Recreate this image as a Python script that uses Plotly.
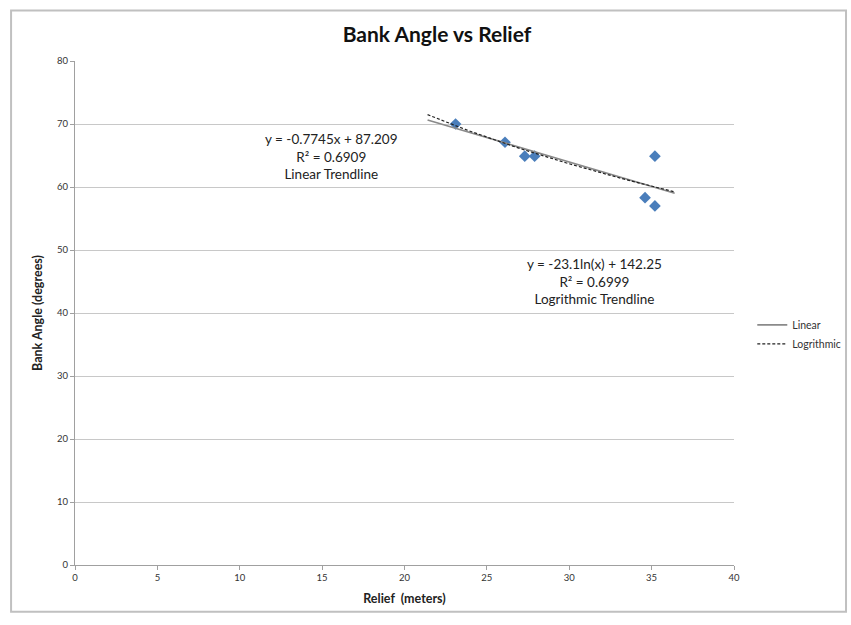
import numpy as np
import plotly.graph_objects as go

# Measured relief (m) and bank angle (degrees)
relief = [23.1, 26.1, 27.3, 27.9, 34.6, 35.2, 35.2]
bank_angle = [70.0, 67.1, 64.9, 64.9, 58.3, 64.9, 57.0]

# Trendline coefficients
lin_slope, lin_intercept, lin_r2 = -0.7745, 87.209, 0.6909
log_coef, log_intercept, log_r2 = -23.1, 142.25, 0.6999
trend_x_range = [21.4, 36.4]

x_ticks = [0, 5, 10, 15, 20, 25, 30, 35, 40]
y_ticks = [0, 10, 20, 30, 40, 50, 60, 70, 80]

tx = np.linspace(trend_x_range[0], trend_x_range[1], 60)
lin_y = lin_slope * tx + lin_intercept
log_y = log_coef * np.log(tx) + log_intercept

FONT = "Lato, 'Open Sans', sans-serif"

fig = go.Figure()

fig.add_trace(go.Scatter(
    x=relief, y=bank_angle, mode="markers", showlegend=False,
    marker=dict(symbol="diamond", size=9, color="#4a7ebb"),
))
fig.add_trace(go.Scatter(
    x=tx, y=lin_y, mode="lines", name="Linear",
    line=dict(color="#8a8a8a", width=1.6),
))
fig.add_trace(go.Scatter(
    x=tx, y=log_y, mode="lines", name="Logrithmic",
    line=dict(color="#222222", width=1.2, dash="3px,2px"),
))

fig.add_annotation(
    x=15.55, y=64.9, xref="x", yref="y", showarrow=False,
    text=f"y = {lin_slope}x + {lin_intercept}<br>R² = {lin_r2}<br>Linear Trendline",
    font=dict(family=FONT, size=13.5, color="#222"), align="center",
)
fig.add_annotation(
    x=31.55, y=45.0, xref="x", yref="y", showarrow=False,
    text=f"y = {log_coef}ln(x) + {log_intercept}<br>R² = {log_r2}<br>Logrithmic Trendline",
    font=dict(family=FONT, size=13.5, color="#222"), align="center",
)

# Chart frame
fig.add_shape(type="rect", xref="paper", yref="paper",
              x0=-0.097, x1=1.17, y0=-0.093, y1=1.1,
              line=dict(color="#c0c0c0", width=2), fillcolor="rgba(0,0,0,0)", layer="below")

fig.update_layout(
    width=851, height=625,
    margin=dict(l=75, r=117, t=61, b=60),
    paper_bgcolor="white", plot_bgcolor="white",
    title=dict(text="<b>Bank Angle vs Relief</b>", x=0.5135, xanchor="center",
               y=0.945, yanchor="middle",
               font=dict(family=FONT, size=21, color="#111")),
    font=dict(family=FONT, size=9.5, color="#333"),
    legend=dict(xref="container", yref="container", x=0.884, y=0.465,
                xanchor="left", yanchor="middle",
                font=dict(family=FONT, size=10.5, color="#333"),
                bgcolor="rgba(0,0,0,0)", itemwidth=30, tracegroupgap=2),
    xaxis=dict(range=[0, 40], tickvals=x_ticks, showgrid=False,
               showline=True, linecolor="#a0a0a0", linewidth=1,
               ticks="outside", ticklen=4, tickcolor="#a0a0a0",
               zeroline=False,
               title=dict(text="<b>Relief  (meters)</b>", standoff=11,
                          font=dict(family=FONT, size=12.5, color="#222"))),
    yaxis=dict(range=[0, 80], tickvals=y_ticks, showgrid=True,
               gridcolor="#c8c8c8", gridwidth=1,
               showline=True, linecolor="#a0a0a0", linewidth=1,
               ticks="outside", ticklen=4, tickcolor="#a0a0a0",
               zeroline=False,
               title=dict(text="<b>Bank Angle (degrees)</b>", standoff=11,
                          font=dict(family=FONT, size=12.5, color="#222"))),
)

fig.write_html("out.html")
